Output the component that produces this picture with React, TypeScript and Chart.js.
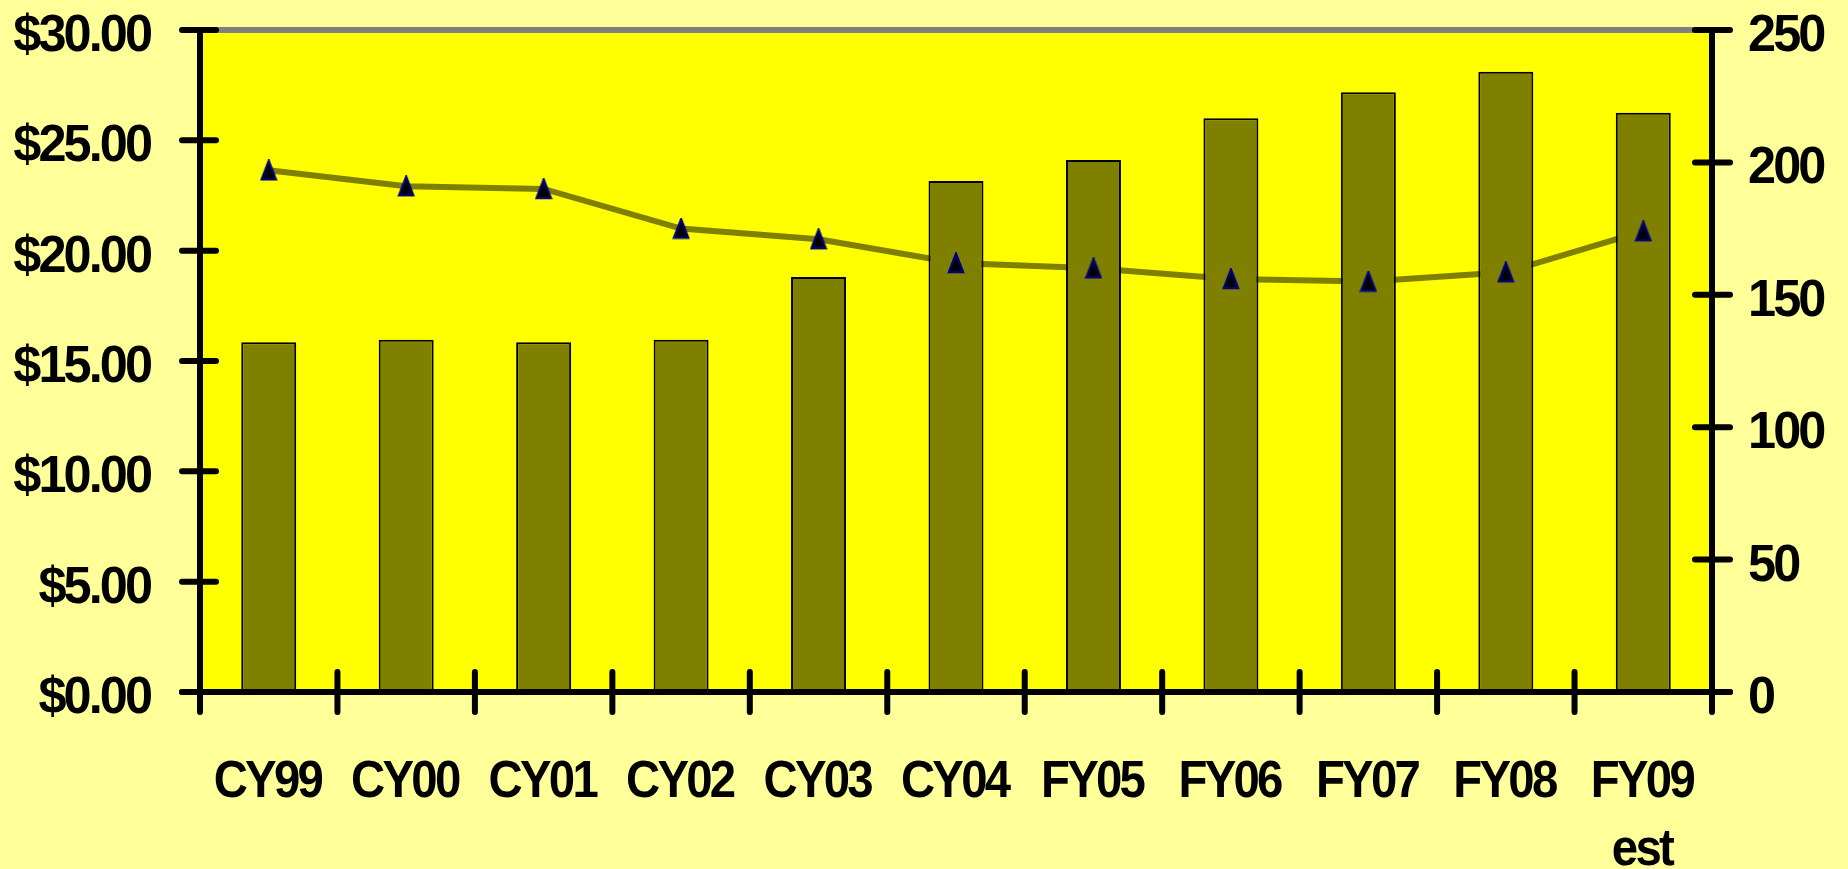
import React, { useEffect, useRef } from "react";
import { Chart, registerables } from "chart.js";

Chart.register(...registerables);

const categories: string[][] = [
  ["CY99"], ["CY00"], ["CY01"], ["CY02"], ["CY03"], ["CY04"],
  ["FY05"], ["FY06"], ["FY07"], ["FY08"], ["FY09", "est"],
];
const barValues = [15.85, 15.96, 15.85, 15.96, 18.81, 23.16, 24.11, 26.0, 27.18, 28.11, 26.25];
const lineValues = [197, 191, 190, 175, 171, 162, 160, 156, 155, 158.5, 174];
const leftTicks = { min: 0, max: 30, step: 5 };
const rightTicks = { min: 0, max: 250, step: 50 };

const FONT = 'bold 52px "Liberation Sans", Arial, sans-serif';
const SX_X = 0.91; // horizontal squeeze of category labels
const SX_Y = 0.97; // horizontal squeeze of value labels
const LS = -3; // letter spacing in px

function makeTriangle(): HTMLCanvasElement {
  const c = document.createElement("canvas");
  c.width = 18;
  c.height = 22;
  const g = c.getContext("2d")!;
  g.beginPath();
  g.moveTo(9, 1.5);
  g.lineTo(16.2, 20.2);
  g.lineTo(1.8, 20.2);
  g.closePath();
  g.fillStyle = "#000000";
  g.fill();
  g.lineWidth = 2.2;
  g.strokeStyle = "#000080";
  g.stroke();
  return c;
}

function drawText(
  ctx: CanvasRenderingContext2D,
  text: string,
  x: number,
  baseline: number,
  align: "left" | "right" | "center",
  sx: number
) {
  ctx.save();
  ctx.font = FONT;
  (ctx as any).letterSpacing = LS + "px";
  ctx.textAlign = "left";
  ctx.textBaseline = "alphabetic";
  ctx.fillStyle = "#000000";
  const w = ctx.measureText(text).width - LS;
  let x0 = x;
  if (align === "right") x0 = x - w * sx;
  else if (align === "center") x0 = x - (w * sx) / 2;
  ctx.translate(x0, baseline);
  ctx.scale(sx, 1);
  ctx.fillText(text, 0, 0);
  ctx.restore();
}

const axesPlugin = {
  id: "customAxes",
  beforeDraw(chart: any) {
    const { ctx, chartArea } = chart;
    ctx.save();
    ctx.fillStyle = "#FFFF00";
    ctx.fillRect(chartArea.left, chartArea.top, chartArea.right - chartArea.left, chartArea.bottom - chartArea.top);
    ctx.restore();
  },
  afterDraw(chart: any) {
    const { ctx, chartArea } = chart;
    const { left, right, top, bottom } = chartArea;
    const xs = chart.scales.x;
    const yl = chart.scales.y;
    const yr = chart.scales.y1;
    ctx.save();
    ctx.strokeStyle = "#808080";
    ctx.lineWidth = 6;
    ctx.lineCap = "butt";
    ctx.beginPath();
    ctx.moveTo(left, top);
    ctx.lineTo(right, top);
    ctx.stroke();

    ctx.strokeStyle = "#000000";
    ctx.lineWidth = 6;
    ctx.lineCap = "round";
    const seg = (x1: number, y1: number, x2: number, y2: number) => {
      ctx.beginPath();
      ctx.moveTo(x1, y1);
      ctx.lineTo(x2, y2);
      ctx.stroke();
    };
    seg(left, top, left, bottom + 20);
    seg(right, top, right, bottom + 20);
    seg(left - 18, bottom, right + 18, bottom);
    yl.ticks.forEach((t: any) => {
      const p = yl.getPixelForValue(t.value);
      seg(left - 18, p, left + 16, p);
      drawText(ctx, "$" + Number(t.value).toFixed(2), left - 47, p + 21, "right", SX_Y);
    });
    yr.ticks.forEach((t: any) => {
      const p = yr.getPixelForValue(t.value);
      seg(right - 17, p, right + 18, p);
      drawText(ctx, String(t.value), right + 36, p + 21, "left", SX_Y);
    });
    const n = categories.length;
    const half = (xs.getPixelForTick(1) - xs.getPixelForTick(0)) / 2;
    for (let i = 1; i < n; i++) {
      const p = xs.getPixelForTick(i) - half;
      seg(p, bottom - 20, p, bottom + 20);
    }
    categories.forEach((lines, i) => {
      const cx = xs.getPixelForTick(i);
      lines.forEach((ln, j) => drawText(ctx, ln, cx, bottom + 105 + j * 68, "center", SX_X));
    });
    ctx.restore();
  },
};

export default function App() {
  const ref = useRef<HTMLCanvasElement | null>(null);
  useEffect(() => {
    if (!ref.current) return;
    const tri = makeTriangle();
    const zeroPad = (s: any) => {
      s.paddingTop = 0;
      s.paddingBottom = 0;
      s.paddingLeft = 0;
      s.paddingRight = 0;
    };
    const chart = new Chart(ref.current, {
      type: "bar",
      data: {
        labels: categories.map((c) => c.join(" ")),
        datasets: [
          {
            type: "line",
            data: lineValues,
            yAxisID: "y1",
            borderColor: "#808000",
            borderWidth: 6,
            pointRadius: 0,
            tension: 0,
            order: 3,
          } as any,
          {
            type: "bar",
            data: barValues,
            yAxisID: "y",
            backgroundColor: "#808000",
            borderColor: "#000000",
            borderWidth: 2,
            barPercentage: 0.4,
            categoryPercentage: 1,
            order: 2,
          } as any,
          {
            type: "line",
            data: lineValues,
            yAxisID: "y1",
            showLine: false,
            pointStyle: tri,
            pointRadius: 10,
            order: 1,
          } as any,
        ],
      },
      options: {
        responsive: false,
        animation: false,
        devicePixelRatio: 1,
        layout: { padding: { top: 30, left: 0, right: 0, bottom: 0 } },
        plugins: { legend: { display: false }, tooltip: { enabled: false } },
        scales: {
          x: {
            type: "category",
            offset: true,
            grid: { display: false, drawTicks: false },
            border: { display: false },
            ticks: { display: false, autoSkip: false },
            afterFit: (s: any) => { s.height = 177; zeroPad(s); },
          },
          y: {
            position: "left",
            min: leftTicks.min,
            max: leftTicks.max,
            grid: { display: false, drawTicks: false },
            border: { display: false },
            ticks: { display: false, stepSize: leftTicks.step },
            afterFit: (s: any) => { s.width = 200; zeroPad(s); },
          },
          y1: {
            position: "right",
            min: rightTicks.min,
            max: rightTicks.max,
            grid: { display: false, drawTicks: false },
            border: { display: false },
            ticks: { display: false, stepSize: rightTicks.step },
            afterFit: (s: any) => { s.width = 136; zeroPad(s); },
          },
        },
      },
      plugins: [axesPlugin],
    });
    return () => chart.destroy();
  }, []);
  return (
    <div style={{ position: "fixed", left: 0, top: 0, width: 1848, height: 869, background: "#FFFF99" }}>
      <canvas ref={ref} width={1848} height={869} style={{ display: "block", width: 1848, height: 869 }} />
    </div>
  );
}
